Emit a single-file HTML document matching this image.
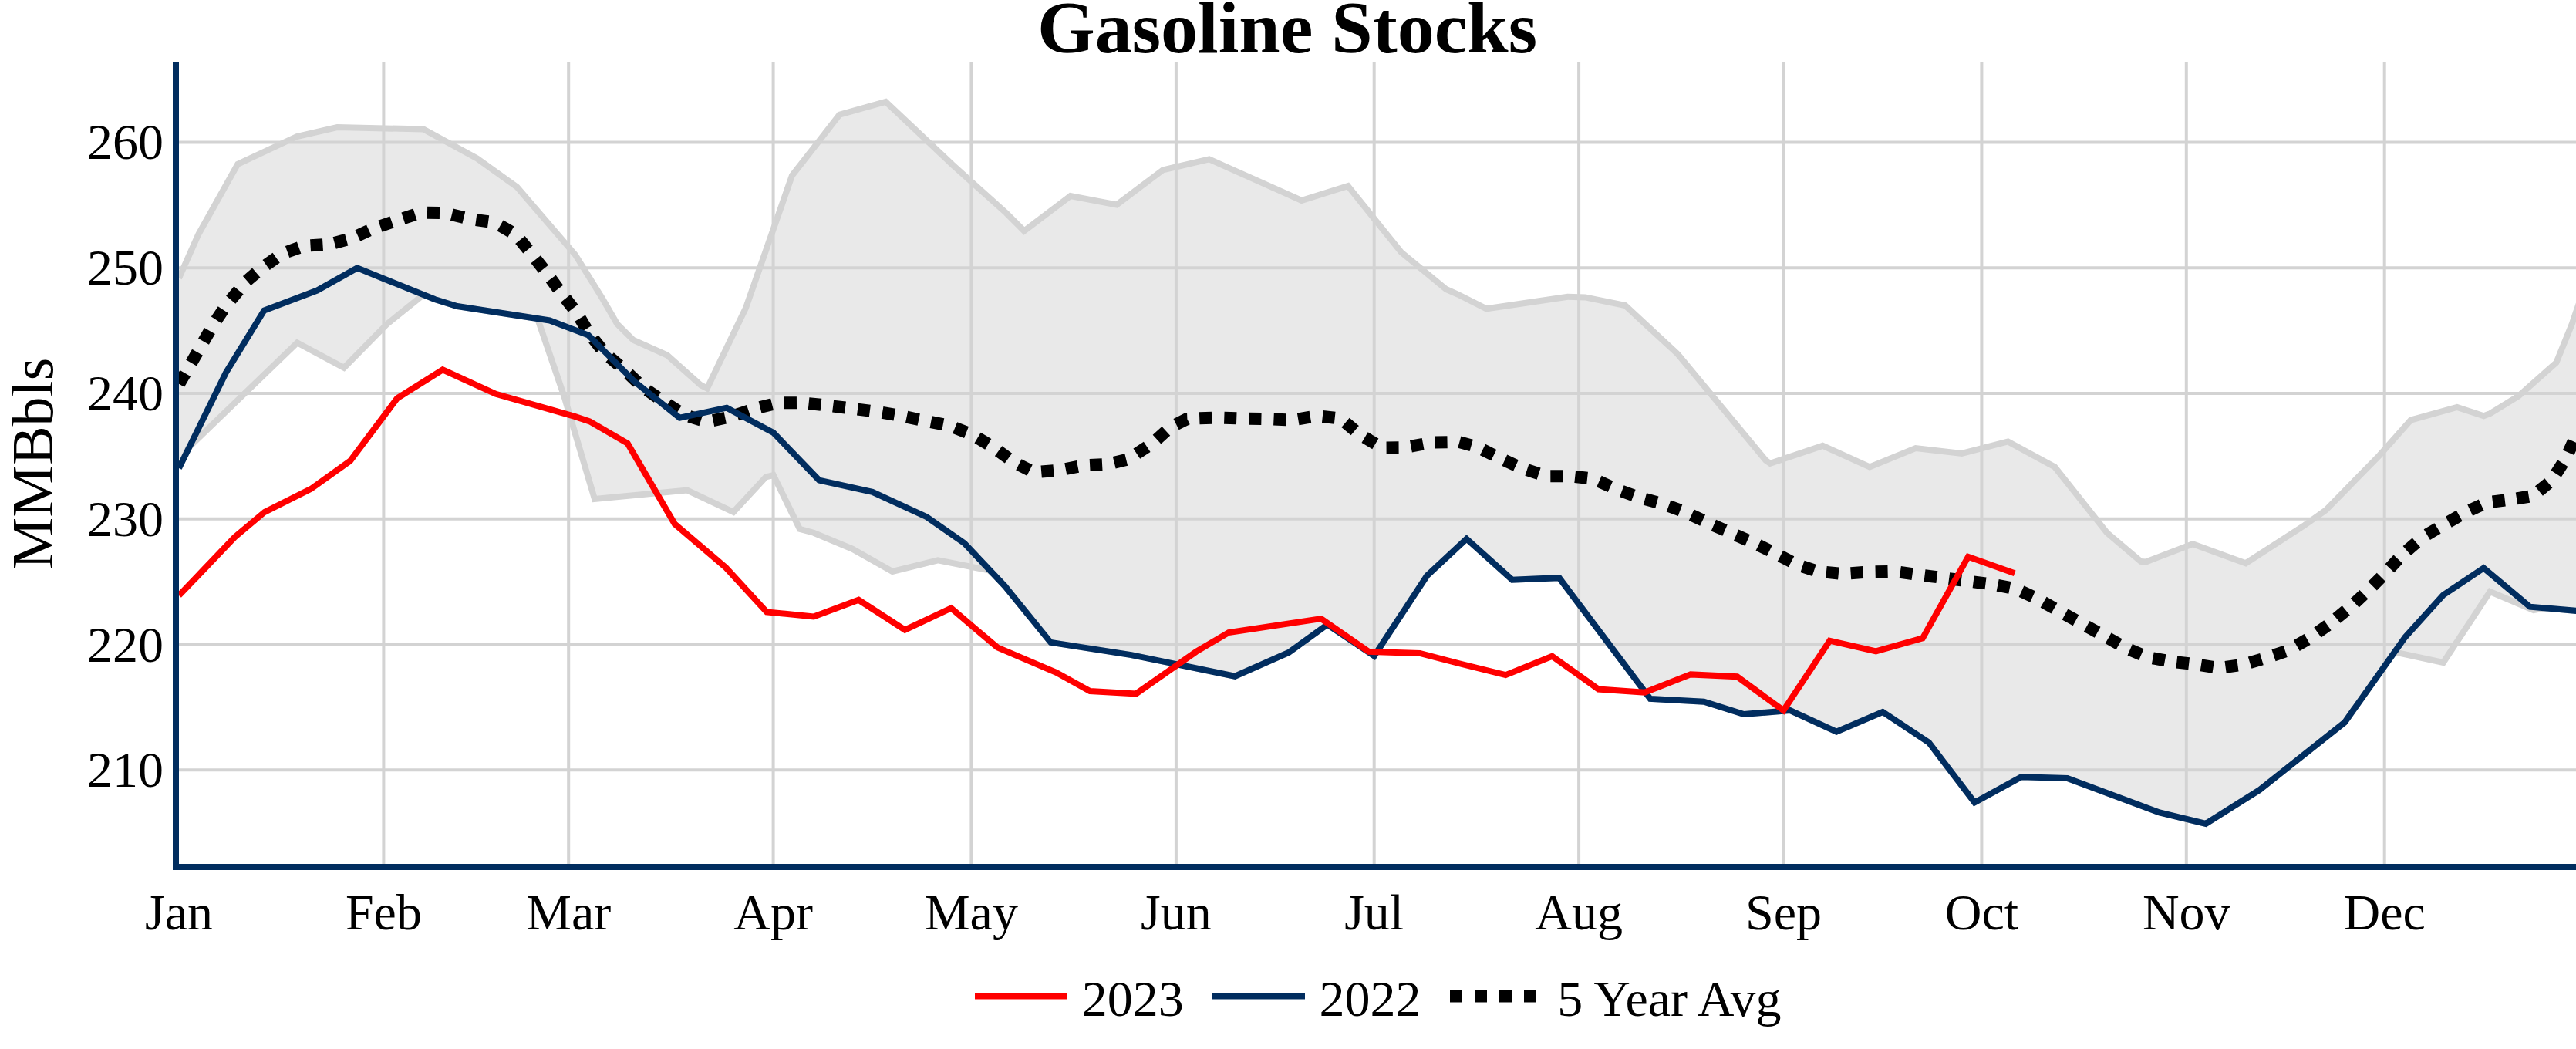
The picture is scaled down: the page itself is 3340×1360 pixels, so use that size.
<!DOCTYPE html>
<html><head><meta charset="utf-8"><title>Gasoline Stocks</title>
<style>
html,body{margin:0;padding:0;background:#fff;}
body{width:3340px;height:1360px;overflow:hidden;}
svg{display:block;}
text{font-family:"Liberation Serif",serif;fill:#000;}
</style></head><body>
<svg width="3340" height="1360" viewBox="0 0 3340 1360">
<rect width="3340" height="1360" fill="#fff"/>
<defs><clipPath id="plot"><rect x="232" y="80" width="3108" height="1040"/></clipPath></defs>

<g stroke="#d3d3d3" stroke-width="4" fill="none">
<line x1="497.4" y1="80" x2="497.4" y2="1124"/>
<line x1="737.2" y1="80" x2="737.2" y2="1124"/>
<line x1="1002.6" y1="80" x2="1002.6" y2="1124"/>
<line x1="1259.4" y1="80" x2="1259.4" y2="1124"/>
<line x1="1524.9" y1="80" x2="1524.9" y2="1124"/>
<line x1="1781.7" y1="80" x2="1781.7" y2="1124"/>
<line x1="2047.1" y1="80" x2="2047.1" y2="1124"/>
<line x1="2312.6" y1="80" x2="2312.6" y2="1124"/>
<line x1="2569.4" y1="80" x2="2569.4" y2="1124"/>
<line x1="2834.8" y1="80" x2="2834.8" y2="1124"/>
<line x1="3091.7" y1="80" x2="3091.7" y2="1124"/>
<line x1="232" y1="998.2" x2="3340" y2="998.2"/>
<line x1="232" y1="835.5" x2="3340" y2="835.5"/>
<line x1="232" y1="672.7" x2="3340" y2="672.7"/>
<line x1="232" y1="509.9" x2="3340" y2="509.9"/>
<line x1="232" y1="347.2" x2="3340" y2="347.2"/>
<line x1="232" y1="184.4" x2="3340" y2="184.4"/>
</g>
<g clip-path="url(#plot)" fill="none" stroke-linejoin="miter">
<polygon points="232.0,360.5 257.3,303.7 308.2,212.9 385.0,177.0 437.2,165.0 549.0,167.5 618.6,205.5 670.3,242.5 746.0,330.5 780.5,386.0 800.2,420.0 821.3,441.0 865.0,460.5 908.8,499.4 916.9,503.6 967.0,399.3 1027.0,227.5 1055.0,191.8 1088.4,148.7 1148.4,131.9 1234.9,213.5 1304.6,276.1 1327.9,299.4 1387.9,254.1 1447.9,265.4 1507.8,220.4 1567.8,206.4 1687.7,259.9 1747.7,241.1 1816.8,327.0 1875.1,375.0 1890.0,381.5 1927.3,400.3 2032.6,384.7 2055.3,385.4 2107.2,396.0 2133.1,420.0 2175.2,458.9 2289.4,596.7 2295.2,600.9 2363.3,577.9 2424.2,605.4 2483.8,581.1 2543.5,587.9 2603.5,572.4 2664.2,605.4 2731.9,690.7 2775.7,727.9 2782.1,728.6 2843.1,705.3 2911.8,730.2 2988.0,681.0 3015.5,661.5 3085.0,590.5 3125.8,544.6 3185.8,527.9 3220.4,539.2 3229.0,536.0 3265.5,513.5 3314.4,470.2 3334.8,420.0 3345.0,390.0 3345.0,792.3 3300.0,788.4 3285.0,791.0 3228.5,767.1 3167.9,858.9 3104.7,845.4 3039.9,936.7 2929.6,1024.2 2860.0,1068.0 2800.0,1053.4 2680.5,1009.0 2620.8,1007.3 2560.2,1040.4 2501.0,962.6 2441.1,923.0 2381.1,948.7 2321.1,921.1 2261.1,926.0 2209.3,909.8 2139.6,905.9 2021.6,749.2 1960.7,751.8 1901.5,698.6 1850.0,746.7 1781.8,850.5 1721.0,809.8 1670.9,845.9 1601.2,876.7 1466.7,849.1 1362.3,832.9 1303.0,760.0 1288.0,744.1 1281.9,739.3 1216.1,726.3 1157.1,740.9 1105.2,711.7 1055.0,690.7 1036.9,685.8 1002.8,616.1 993.1,618.4 951.0,663.8 891.0,635.6 771.0,646.9 731.5,514.0 697.0,413.1 592.8,397.0 563.6,388.0 549.0,382.1 502.0,420.0 446.0,476.7 385.3,444.3 243.8,581.0 232.0,607.0" fill="#d3d3d3" fill-opacity="0.5" stroke="none"/>
<polyline points="232.0,607.0 243.8,581.0 385.3,444.3 446.0,476.7 502.0,420.0 549.0,382.1 563.6,388.0 592.8,397.0 697.0,413.1 731.5,514.0 771.0,646.9 891.0,635.6 951.0,663.8 993.1,618.4 1002.8,616.1 1036.9,685.8 1055.0,690.7 1105.2,711.7 1157.1,740.9 1216.1,726.3 1281.9,739.3 1288.0,744.1 1303.0,760.0 1362.3,832.9 1466.7,849.1 1601.2,876.7 1670.9,845.9 1721.0,809.8 1781.8,850.5 1850.0,746.7 1901.5,698.6 1960.7,751.8 2021.6,749.2 2139.6,905.9 2209.3,909.8 2261.1,926.0 2321.1,921.1 2381.1,948.7 2441.1,923.0 2501.0,962.6 2560.2,1040.4 2620.8,1007.3 2680.5,1009.0 2800.0,1053.4 2860.0,1068.0 2929.6,1024.2 3039.9,936.7 3104.7,845.4 3167.9,858.9 3228.5,767.1 3285.0,791.0 3300.0,788.4 3345.0,792.3" stroke="#d3d3d3" stroke-width="8"/>
<polyline points="232.0,360.5 257.3,303.7 308.2,212.9 385.0,177.0 437.2,165.0 549.0,167.5 618.6,205.5 670.3,242.5 746.0,330.5 780.5,386.0 800.2,420.0 821.3,441.0 865.0,460.5 908.8,499.4 916.9,503.6 967.0,399.3 1027.0,227.5 1055.0,191.8 1088.4,148.7 1148.4,131.9 1234.9,213.5 1304.6,276.1 1327.9,299.4 1387.9,254.1 1447.9,265.4 1507.8,220.4 1567.8,206.4 1687.7,259.9 1747.7,241.1 1816.8,327.0 1875.1,375.0 1890.0,381.5 1927.3,400.3 2032.6,384.7 2055.3,385.4 2107.2,396.0 2133.1,420.0 2175.2,458.9 2289.4,596.7 2295.2,600.9 2363.3,577.9 2424.2,605.4 2483.8,581.1 2543.5,587.9 2603.5,572.4 2664.2,605.4 2731.9,690.7 2775.7,727.9 2782.1,728.6 2843.1,705.3 2911.8,730.2 2988.0,681.0 3015.5,661.5 3085.0,590.5 3125.8,544.6 3185.8,527.9 3220.4,539.2 3229.0,536.0 3265.5,513.5 3314.4,470.2 3334.8,420.0 3345.0,390.0" stroke="#d3d3d3" stroke-width="8"/>
<polyline points="232.0,498.0 244.4,476.9 260.3,449.3 275.5,422.6 292.5,396.8 318.9,365.1 339.4,347.5 365.4,329.1 394.1,318.8 426.8,316.8 456.9,308.6 483.1,296.6 519.9,284.0 545.5,275.7 577.6,276.2 609.8,284.1 641.5,288.4 668.9,304.2 692.9,333.9 709.7,355.3 728.9,381.5 748.0,405.9 764.0,432.5 784.0,457.7 809.1,479.0 832.9,501.6 859.1,519.8 886.3,537.4 915.9,546.9 947.9,540.2 979.2,529.7 1008.0,522.4 1039.5,522.2 1068.7,525.2 1104.4,529.6 1136.0,533.6 1167.7,539.0 1198.9,545.6 1230.9,551.7 1260.5,563.5 1288.1,580.0 1314.4,599.1 1340.5,612.4 1373.5,609.6 1404.7,603.5 1437.1,601.7 1462.6,595.4 1494.1,574.9 1517.5,553.8 1539.2,543.0 1579.7,541.4 1611.4,542.5 1643.3,543.1 1675.3,544.6 1707.4,539.2 1738.2,542.5 1762.9,563.3 1792.1,580.5 1820.8,580.3 1857.2,573.5 1891.6,572.9 1915.4,579.5 1943.5,593.4 1972.4,606.7 2004.7,617.3 2034.3,617.2 2065.5,620.6 2094.9,633.8 2125.7,645.0 2156.5,653.4 2185.7,664.2 2217.4,679.2 2243.8,690.7 2276.0,704.8 2301.7,717.4 2329.6,731.9 2355.9,740.7 2388.6,743.9 2424.0,741.5 2456.1,740.8 2487.3,745.2 2518.9,749.1 2551.0,753.4 2582.6,757.4 2613.8,763.5 2642.3,776.5 2670.3,792.6 2698.7,808.1 2732.9,827.0 2754.8,839.3 2783.8,851.9 2814.5,857.6 2846.2,861.2 2877.0,866.0 2908.8,861.7 2940.4,852.2 2967.0,843.2 2995.6,826.7 3021.9,807.8 3050.6,784.2 3069.7,766.3 3090.6,745.2 3114.7,719.3 3140.5,697.0 3168.5,680.2 3197.4,664.0 3224.1,651.4 3255.3,647.6 3283.9,642.9 3308.3,623.2 3326.8,594.5 3351.5,538.7" stroke="#000" stroke-width="16" stroke-dasharray="16 15.5 16 16.03 16 16.44 16 16.28 16 16.35 16 16.36 16 16.52 16 15.3 16 15.48 16 15.67 16 15.59 16 15.64 16 16.26 16 16.03 16 16.24 16 16.65 16 16.2 16 16.39 16 15.98 16 15.77 16 15.86 16 15.98 16 15.98 16 16.41 16 16.41 16 16.14 16 16.23 16 16.22 16 15.77 16 15.55 16 16.14 16 15.66 16 15.73 16 16.13 16 16.38 16 16.02 16 16.14 16 16.1 16 16.26 16 15.93 16 15.74 16 15.78 16 15.84 16 15.78 16 15.88 16 15.79 16 16.16 16 15.96 16 15.86 16 16.09 16 16.17 16 16.03 16 15.85 16 16.03 16 15.78 16 15.75 16 15.64 16 16.0 16 15.62 16 15.78 16 15.82 16 15.63 16 15.59 16 15.69 16 15.93 16 16.08 16 16.05 16 15.78 16 15.96 16 15.9 16 15.65 16 15.88 16 15.72 16 15.64 16 15.75 16 15.99 16 15.85 16 16.03 16 16.24 16 16.02 16 15.84 16 15.81 16 15.87 16 16.01 16 15.84 16 16.08 16 16.07 16 15.94 16 15.83 16 15.73 16 15.44 16 15.85 16 16.07 16 16.09 16 16.34 16 16.45 16 16.14 16 14.6 16 15.09 16 15.73 16 15.99 16 15.99 16 17.32 16 16.55 16 15.76 16 15.55 16 15.39 16 15.47 16 15.79 16 15.8 16 400" stroke-dashoffset="-0.24"/>
<polyline points="232.0,607.0 292.9,483.2 342.5,402.5 411.2,376.6 463.1,347.4 563.6,388.0 592.8,397.0 712.7,415.5 763.0,434.6 822.5,494.6 881.3,541.6 942.2,528.6 1002.8,561.0 1062.1,622.6 1131.2,637.8 1201.5,670.2 1250.4,704.3 1303.0,760.0 1362.3,832.9 1466.7,849.1 1601.2,876.7 1670.9,845.9 1721.0,809.8 1781.8,850.5 1850.0,746.7 1901.5,698.6 1960.7,751.8 2021.6,749.2 2139.6,905.9 2209.3,909.8 2261.1,926.0 2321.1,921.1 2381.1,948.7 2441.1,923.0 2501.0,962.6 2560.2,1040.4 2620.8,1007.3 2680.5,1009.0 2800.0,1053.4 2860.0,1068.0 2929.6,1024.2 3039.9,936.7 3118.5,826.0 3167.8,771.5 3220.3,736.5 3280.3,786.7 3345.0,792.3" stroke="#012d5f" stroke-width="8"/>
<polyline points="232.0,772.1 304.3,696.5 343.2,663.8 403.1,633.9 454.0,597.6 515.0,516.3 574.0,479.3 643.0,510.8 745.1,539.9 764.6,546.4 813.8,574.9 874.8,679.3 941.2,736.0 994.1,793.4 1055.0,799.5 1113.3,777.8 1173.3,816.7 1233.3,788.5 1293.2,839.4 1369.4,871.8 1413.2,896.1 1473.1,899.4 1550.9,844.9 1593.1,820.0 1713.0,802.1 1774.6,844.9 1841.0,846.9 1893.2,860.5 1952.2,875.1 2012.5,850.8 2072.5,893.5 2132.5,897.8 2192.1,874.4 2252.4,877.3 2312.4,921.1 2372.3,830.7 2432.3,844.3 2492.9,827.4 2551.9,721.8 2612.2,743.2" stroke="#ff0000" stroke-width="8"/>
</g>
<rect x="224" y="80" width="8" height="1048" fill="#012d5f"/>
<rect x="224" y="1120" width="3116" height="8" fill="#012d5f"/>
<text x="1669" y="67.5" font-size="96" font-weight="bold" text-anchor="middle">Gasoline Stocks</text>
<text x="212" y="1020.2" font-size="66" text-anchor="end">210</text>
<text x="212" y="857.5" font-size="66" text-anchor="end">220</text>
<text x="212" y="694.7" font-size="66" text-anchor="end">230</text>
<text x="212" y="531.9" font-size="66" text-anchor="end">240</text>
<text x="212" y="369.2" font-size="66" text-anchor="end">250</text>
<text x="212" y="206.4" font-size="66" text-anchor="end">260</text>
<text transform="translate(68,601) rotate(-90)" font-size="76" text-anchor="middle">MMBbls</text>
<text x="232.0" y="1205" font-size="66" text-anchor="middle">Jan</text>
<text x="497.4" y="1205" font-size="66" text-anchor="middle">Feb</text>
<text x="737.2" y="1205" font-size="66" text-anchor="middle">Mar</text>
<text x="1002.6" y="1205" font-size="66" text-anchor="middle">Apr</text>
<text x="1259.4" y="1205" font-size="66" text-anchor="middle">May</text>
<text x="1524.9" y="1205" font-size="66" text-anchor="middle">Jun</text>
<text x="1781.7" y="1205" font-size="66" text-anchor="middle">Jul</text>
<text x="2047.1" y="1205" font-size="66" text-anchor="middle">Aug</text>
<text x="2312.6" y="1205" font-size="66" text-anchor="middle">Sep</text>
<text x="2569.4" y="1205" font-size="66" text-anchor="middle">Oct</text>
<text x="2834.8" y="1205" font-size="66" text-anchor="middle">Nov</text>
<text x="3091.7" y="1205" font-size="66" text-anchor="middle">Dec</text>
<line x1="1264" y1="1291.5" x2="1384" y2="1291.5" stroke="#ff0000" stroke-width="8"/>
<text x="1402.8" y="1317.3" font-size="66">2023</text>
<line x1="1572" y1="1291.5" x2="1692" y2="1291.5" stroke="#012d5f" stroke-width="8"/>
<text x="1710.5" y="1317.3" font-size="66">2022</text>
<line x1="1880" y1="1291.6" x2="2000" y2="1291.6" stroke="#000" stroke-width="16" stroke-dasharray="16 16"/>
<text x="2019.3" y="1317.3" font-size="66">5 Year Avg</text>
</svg></body></html>
